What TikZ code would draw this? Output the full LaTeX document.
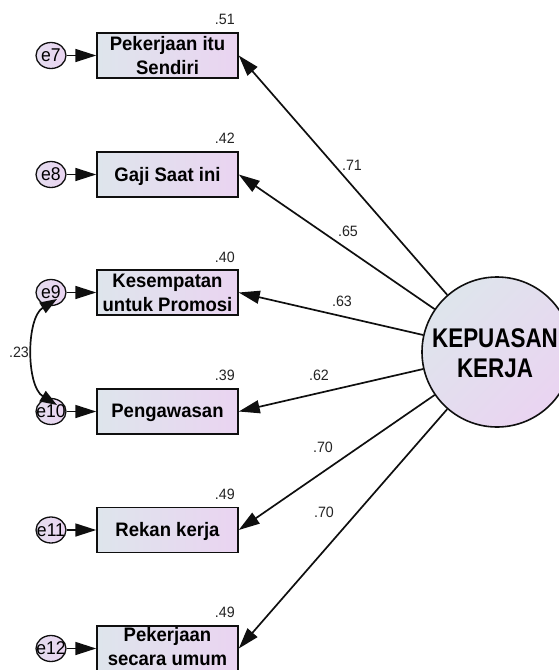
\documentclass[tikz,border=0pt]{standalone}
\usepackage{fontspec}
\setmainfont{Liberation Sans}[FakeStretch=0.95]
\newfontfamily\kfont{Liberation Sans}[FakeStretch=0.83]
\usetikzlibrary{arrows.meta,shapes.geometric}
\definecolor{gA}{RGB}{222,229,236}
\definecolor{gB}{RGB}{234,212,241}
\definecolor{lineC}{RGB}{15,15,15}
\definecolor{valC}{RGB}{35,35,35}
\begin{document}
\begin{tikzpicture}[x=1pt,y=-1pt,
  box/.style={draw=lineC, line width=1.5pt, minimum width=141pt, minimum height=45pt,
    inner sep=0pt, left color=gA, right color=gB},
  boxtext/.style={font=\fontsize{19.5}{24}\selectfont\bfseries, align=center, inner sep=0pt},
  err/.style={ellipse, draw=lineC, line width=1.3pt, minimum width=30pt, minimum height=26pt,
    inner sep=0pt, left color=gA!50!gB, right color=gB},
  errtext/.style={font=\fontsize{18.5}{20}\selectfont, inner sep=0pt},
  latent/.style={circle, draw=lineC, line width=1.6pt, minimum size=150pt, inner sep=0pt,
    top color=gA, bottom color=gB, shading angle=45},
  ktext/.style={font=\fontsize{27}{30}\selectfont\kfont\bfseries, align=center, inner sep=0pt},
  val/.style={font=\fontsize{15}{17}\selectfont, text=valC, inner sep=0pt},
  lnk/.style={draw=lineC, line width=1.7pt, -{Triangle[length=21pt,width=13pt]}},
  cov/.style={draw=lineC, line width=1.7pt, {Triangle[length=17pt,width=12pt]}-{Triangle[length=17pt,width=12pt]}}
]
\useasboundingbox (0,0) rectangle (559,670);
\clip (0,0) rectangle (559,670);

% latent variable
\node[latent] (K) at (497,352) {};
\node[ktext] (Kt) at (495,353.5) {KEPUASAN\\KERJA};

% observed boxes
\node[box] (b1) at (167.5,55.5) {};
\node[box] (b2) at (167.5,174.5) {};
\node[box] (b3) at (167.5,292.5) {};
\node[box] (b4) at (167.5,411.5) {};
\node[box] (b5) at (167.5,530) {};
\node[box] (b6) at (167.5,648.5) {};
\node[boxtext] (t1) at (167.5,56) {Pekerjaan itu\\Sendiri};
\node[boxtext] (t2) at (167.5,176) {Gaji Saat ini};
\node[boxtext] (t3) at (167.5,293) {Kesempatan\\untuk Promosi};
\node[boxtext] (t4) at (167.5,413) {Pengawasan};
\node[boxtext] (t5) at (167.5,531.5) {Rekan kerja};
\node[boxtext] (t6) at (167.5,647) {Pekerjaan\\secara umum};

% errors
\foreach \n/\y/\lab in {7/55.5/e7, 8/174.5/e8, 9/292.5/e9, 10/411.5/e10, 11/530/e11, 12/648.5/e12}{
  \node[err] (e\n) at (51,\y) {};
  \node[errtext] (le\n) at (51,\y) {\lab};
}
\draw[lnk] (e7) -- (b1.west);
\draw[lnk] (e8) -- (b2.west);
\draw[lnk] (e9) -- (b3.west);
\draw[lnk] (e10) -- (b4.west);
\draw[lnk] (e11) -- (b5.west);
\draw[lnk] (e12) -- (b6.west);

% R squared
\node[val, anchor=base east] (r1) at (235,24) {.51};
\node[val, anchor=base east] (r2) at (235,143) {.42};
\node[val, anchor=base east] (r3) at (235,262) {.40};
\node[val, anchor=base east] (r4) at (235,380.5) {.39};
\node[val, anchor=base east] (r5) at (235,499) {.49};
\node[val, anchor=base east] (r6) at (235,617.5) {.49};

% loadings
\draw[lnk] (K) -- (b1.east);
\draw[lnk] (K) -- (b2.east);
\draw[lnk] (K) -- (b3.east);
\draw[lnk] (K) -- (b4.east);
\draw[lnk] (K) -- (b5.east);
\draw[lnk] (K) -- (b6.east);
\node[val] (l1) at (352,165) {.71};
\node[val] (l2) at (348,231) {.65};
\node[val] (l3) at (342,301) {.63};
\node[val] (l4) at (319,375) {.62};
\node[val] (l5) at (323,447) {.70};
\node[val] (l6) at (324,512) {.70};

% covariance
\coordinate (c9) at (57,299);
\coordinate (c10) at (57,405);
\draw[cov] (c9) .. controls (26,318) and (26,386) .. (c10);
\node[val] (cv) at (19,352) {.23};
\end{tikzpicture}
\end{document}
